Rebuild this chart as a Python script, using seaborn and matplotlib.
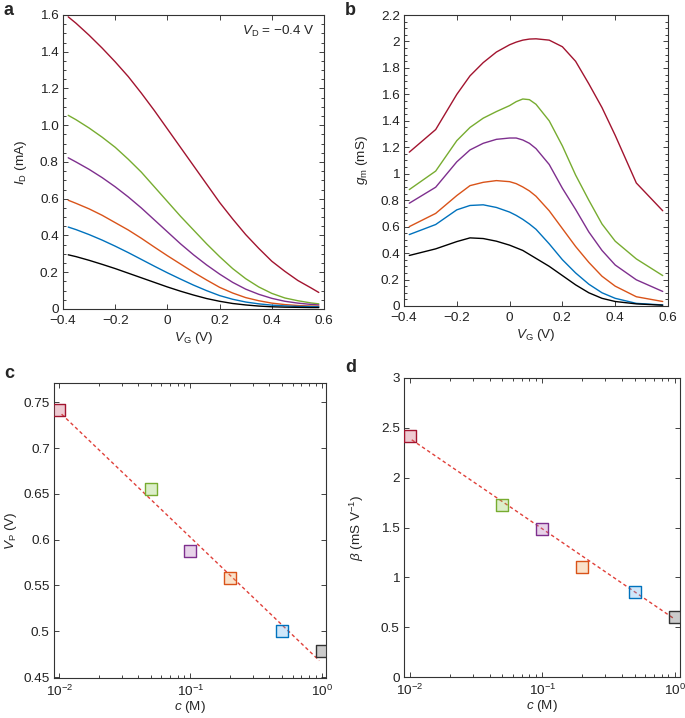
import numpy as np
import pandas as pd
import matplotlib
matplotlib.use("Agg")
import matplotlib.pyplot as plt
import seaborn as sns
from matplotlib.ticker import MultipleLocator, FixedLocator, LogLocator, NullFormatter, FixedFormatter

sns.set_theme(style="ticks")
plt.rcParams['font.family'] = ['Liberation Sans', 'DejaVu Sans']
plt.rcParams['mathtext.fontset'] = 'custom'
plt.rcParams['mathtext.rm'] = 'Liberation Sans'
plt.rcParams['mathtext.it'] = 'Liberation Sans:italic'
plt.rcParams['mathtext.bf'] = 'Liberation Sans:bold'
plt.rcParams['axes.unicode_minus'] = True

# ---------------- data ----------------
series = ["0.01 M", "0.05 M", "0.1 M", "0.2 M", "0.5 M", "1 M"]
colors = ["#A2142F", "#77AC30", "#7E2F8E", "#D95319", "#0072BD", "#000000"]
marker_face = ["#C8506A", "#8CC850", "#B070B8", "#F0A050", "#60B0F0", "#555555"]

# panel a: transfer curves (I_D in mA)
vg_a = [-0.38, -0.35, -0.30, -0.25, -0.20, -0.15, -0.10, -0.05, 0.00, 0.05, 0.10,
        0.15, 0.20, 0.25, 0.30, 0.35, 0.40, 0.45, 0.50, 0.55, 0.58]
id_red = [1.59, 1.555, 1.49, 1.42, 1.345, 1.265, 1.175, 1.08, 0.98, 0.88, 0.78,
          0.68, 0.58, 0.49, 0.405, 0.33, 0.26, 0.205, 0.155, 0.115, 0.09]
id_green = [1.054, 1.03, 0.985, 0.935, 0.88, 0.815, 0.745, 0.665, 0.585, 0.505, 0.43,
            0.355, 0.285, 0.22, 0.165, 0.12, 0.085, 0.06, 0.045, 0.033, 0.028]
id_purple = [0.823, 0.80, 0.76, 0.715, 0.665, 0.61, 0.55, 0.485, 0.42, 0.355, 0.295,
             0.24, 0.19, 0.145, 0.108, 0.08, 0.058, 0.042, 0.032, 0.025, 0.022]
id_orange = [0.592, 0.575, 0.545, 0.51, 0.47, 0.43, 0.385, 0.337, 0.29, 0.245, 0.2,
             0.158, 0.118, 0.087, 0.062, 0.045, 0.032, 0.024, 0.019, 0.016, 0.015]
id_blue = [0.446, 0.432, 0.405, 0.375, 0.342, 0.307, 0.27, 0.233, 0.197, 0.163, 0.13,
           0.1, 0.073, 0.053, 0.038, 0.028, 0.021, 0.017, 0.014, 0.013, 0.012]
id_black = [0.295, 0.285, 0.265, 0.243, 0.22, 0.195, 0.17, 0.145, 0.12, 0.097, 0.076,
            0.057, 0.042, 0.03, 0.022, 0.016, 0.012, 0.01, 0.009, 0.008, 0.008]

# panel b: transconductance (mS)
vg_b = [-0.38, -0.28, -0.20, -0.15, -0.10, -0.05, 0.00, 0.025, 0.05, 0.075, 0.10, 0.15, 0.20,
        0.25, 0.30, 0.35, 0.40, 0.48, 0.58]
gm_red = [1.163, 1.334, 1.60, 1.74, 1.84, 1.92, 1.975, 1.995, 2.01, 2.018, 2.02, 2.01, 1.96,
          1.85, 1.68, 1.50, 1.29, 0.93, 0.72]
gm_green = [0.88, 1.02, 1.25, 1.35, 1.42, 1.47, 1.515, 1.545, 1.565, 1.56, 1.525, 1.40, 1.21,
            0.99, 0.80, 0.62, 0.49, 0.356, 0.23]
gm_purple = [0.777, 0.898, 1.09, 1.18, 1.23, 1.26, 1.27, 1.27, 1.255, 1.23, 1.19, 1.07, 0.89,
             0.73, 0.56, 0.42, 0.31, 0.198, 0.11]
gm_orange = [0.60, 0.70, 0.835, 0.91, 0.935, 0.948, 0.94, 0.925, 0.90, 0.87, 0.83, 0.72, 0.585,
             0.45, 0.33, 0.225, 0.15, 0.07, 0.034]
gm_blue = [0.54, 0.616, 0.727, 0.76, 0.765, 0.745, 0.71, 0.685, 0.655, 0.62, 0.58, 0.47, 0.35,
           0.25, 0.165, 0.10, 0.058, 0.02, 0.008]
gm_black = [0.382, 0.432, 0.487, 0.515, 0.51, 0.49, 0.46, 0.44, 0.42, 0.39, 0.36, 0.30, 0.23,
            0.16, 0.10, 0.058, 0.034, 0.016, 0.006]

# panels c, d
conc = [0.01, 0.05, 0.1, 0.2, 0.5, 1.0]
vp = [0.741, 0.655, 0.588, 0.558, 0.500, 0.479]
beta = [2.415, 1.728, 1.482, 1.104, 0.850, 0.600]
fit_c_x = [0.0104, 0.96]
fit_c_y = [0.737, 0.468]
fit_d_x = [0.0103, 0.98]
fit_d_y = [2.38, 0.59]

# ---------------- figure ----------------
W, H = 685, 718
fig = plt.figure(figsize=(W / 100, H / 100), dpi=100)

def ax_px(l, t, r, b):
    return fig.add_axes([l / W, 1 - b / H, (r - l) / W, (b - t) / H])

axa = ax_px(63, 15, 324, 309)
axb = ax_px(404, 15, 668, 306)
axc = ax_px(54, 383, 326, 678)
axd = ax_px(404, 378, 680, 677)

FS = 9.7
pal = dict(zip(series, colors))

def style(ax):
    for s in ax.spines.values():
        s.set_linewidth(0.8)
        s.set_color("#333333")
    ax.tick_params(which="both", direction="in", top=True, right=True,
                   labelsize=FS, colors="#222222", width=0.6)
    ax.tick_params(axis="x", which="both", pad=4.5)
    ax.tick_params(axis="y", which="both", pad=3)
    ax.tick_params(which="major", length=3.5)
    ax.tick_params(which="minor", length=2)

# panel a
dfa = pd.concat([pd.DataFrame({"VG": vg_a, "I": v, "c": s}) for s, v in
                 zip(series, [id_red, id_green, id_purple, id_orange, id_blue, id_black])])
sns.lineplot(data=dfa, x="VG", y="I", hue="c", palette=pal, sort=False,
             estimator=None, lw=1.0, legend=False, ax=axa)
axa.set_xlim(-0.4, 0.6)
axa.set_ylim(0, 1.6)
axa.xaxis.set_major_locator(FixedLocator([-0.4, -0.2, 0, 0.2, 0.4, 0.6]))
axa.xaxis.set_major_formatter(FixedFormatter(["\u22120.4", "\u22120.2", "0", "0.2", "0.4", "0.6"]))
axa.yaxis.set_major_locator(FixedLocator([0, 0.2, 0.4, 0.6, 0.8, 1.0, 1.2, 1.4, 1.6]))
axa.yaxis.set_major_formatter(FixedFormatter(["0", "0.2", "0.4", "0.6", "0.8", "1.0", "1.2", "1.4", "1.6"]))
axa.yaxis.set_minor_locator(MultipleLocator(0.05))
axa.set_xlabel(r"$V_{\mathrm{G}}$ (V)", fontsize=FS, labelpad=2)
axa.set_ylabel(r"$I_{\mathrm{D}}$ (mA)", fontsize=FS, labelpad=8)
axa.text(0.565, 1.51, r"$V_{\mathrm{D}}$" + " = \u22120.4 V",
         ha="right", va="center", fontsize=FS)
style(axa)

# panel b
dfb = pd.concat([pd.DataFrame({"VG": vg_b, "gm": v, "c": s}) for s, v in
                 zip(series, [gm_red, gm_green, gm_purple, gm_orange, gm_blue, gm_black])])
sns.lineplot(data=dfb, x="VG", y="gm", hue="c", palette=pal, sort=False,
             estimator=None, lw=1.0, legend=False, ax=axb)
axb.set_xlim(-0.4, 0.6)
axb.set_ylim(0, 2.2)
axb.xaxis.set_major_locator(FixedLocator([-0.4, -0.2, 0, 0.2, 0.4, 0.6]))
axb.xaxis.set_major_formatter(FixedFormatter(["\u22120.4", "\u22120.2", "0", "0.2", "0.4", "0.6"]))
bt = [0, 0.2, 0.4, 0.6, 0.8, 1.0, 1.2, 1.4, 1.6, 1.8, 2.0, 2.2]
axb.yaxis.set_major_locator(FixedLocator(bt))
axb.yaxis.set_major_formatter(FixedFormatter(["0", "0.2", "0.4", "0.6", "0.8", "1", "1.2", "1.4", "1.6", "1.8", "2", "2.2"]))
axb.yaxis.set_minor_locator(MultipleLocator(0.05))
axb.set_xlabel(r"$V_{\mathrm{G}}$ (V)", fontsize=FS, labelpad=2)
axb.set_ylabel(r"$g_{\mathrm{m}}$ (mS)", fontsize=FS, labelpad=8)
style(axb)

def scatter_panel(ax, yvals, fx, fy):
    sns.lineplot(x=fx, y=fy, color="#E0403A", lw=1.0, ax=ax, legend=False)
    ax.lines[-1].set_dashes([2.5, 2.0])
    for cval, yv, ec, fc in zip(conc, yvals, colors, marker_face):
        face = matplotlib.colors.to_rgba(fc, 0.3)
        sns.scatterplot(x=[cval], y=[yv], marker="s", s=66, color=face,
                        edgecolor=ec if ec != "#000000" else "#333333",
                        linewidth=1.0, ax=ax, legend=False, zorder=3)
    ax.set_xscale("log")
    ax.xaxis.set_major_locator(FixedLocator([0.01, 0.1, 1]))
    ax.xaxis.set_major_formatter(FixedFormatter([r"$10^{-2}$", r"$10^{-1}$", r"$10^{0}$"]))
    ax.xaxis.set_minor_locator(LogLocator(base=10, subs=np.arange(2, 10)))
    ax.xaxis.set_minor_formatter(NullFormatter())
    ax.set_xlabel(r"$c$ (M)", fontsize=FS, labelpad=0)

# panel c
scatter_panel(axc, vp, fit_c_x, fit_c_y)
axc.set_xlim(0.0091, 1.08)
axc.set_ylim(0.449, 0.771)
ct = [0.45, 0.5, 0.55, 0.6, 0.65, 0.7, 0.75]
axc.yaxis.set_major_locator(FixedLocator(ct))
axc.yaxis.set_major_formatter(FixedFormatter(["0.45", "0.5", "0.55", "0.6", "0.65", "0.7", "0.75"]))
axc.set_ylabel(r"$V_{\mathrm{P}}$ (V)", fontsize=FS, labelpad=3)
style(axc)

# panel d
scatter_panel(axd, beta, fit_d_x, fit_d_y)
axd.set_xlim(0.0090, 1.10)
axd.set_ylim(0, 3)
dt = [0, 0.5, 1, 1.5, 2, 2.5, 3]
axd.yaxis.set_major_locator(FixedLocator(dt))
axd.yaxis.set_major_formatter(FixedFormatter(["0", "0.5", "1", "1.5", "2", "2.5", "3"]))
axd.set_ylabel(r"$\beta$ (mS V$^{-1}$)", fontsize=FS, labelpad=11)
style(axd)

# panel letters
for lab, x, y in [("a", 4, 15), ("b", 345, 15), ("c", 4, 378), ("d", 345, 372)]:
    fig.text(x / W, 1 - y / H, lab, fontsize=13, fontweight="bold", ha="left", va="baseline")

fig.savefig("out.png", dpi=100)
